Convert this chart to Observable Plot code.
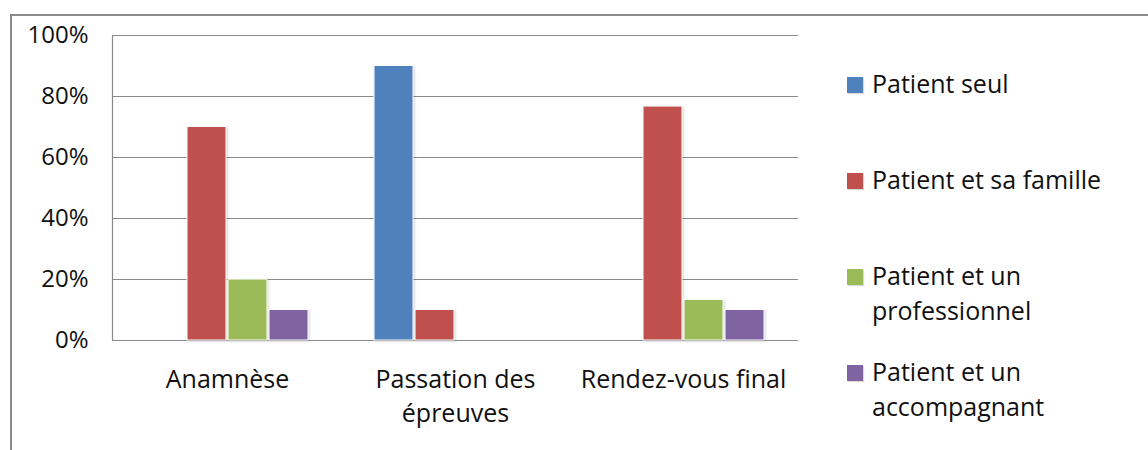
<!DOCTYPE html>
<html>
<head>
<meta charset="utf-8">
<script src="https://cdn.jsdelivr.net/npm/d3@7"></script>
<script src="https://cdn.jsdelivr.net/npm/@observablehq/plot@0.6"></script>
<style>
  html, body { margin: 0; padding: 0; background: #fff; overflow: hidden; }
  body { width: 1148px; height: 450px; position: relative; font-family: "Open Sans", sans-serif; }
  #frame { position: absolute; left: 10px; top: 14px; width: 1160px; height: 460px; border: 2px solid #8c8c8c; box-sizing: border-box; }
  .layer { position: absolute; left: 0; top: 0; }
  .bars rect { filter: drop-shadow(1px 1px 1px rgba(0,0,0,0.18)); }
  #legend { position: absolute; left: 847px; top: 66px; }
  .item { position: relative; height: 96px; width: 270px; }
  .sw { position: absolute; left: 0; top: 11px; width: 16px; height: 16px; box-shadow: 1px 1px 1px rgba(0,0,0,0.15); }
  .lab { position: absolute; left: 25px; top: 0; width: 255px; font-size: 25px; line-height: 35px; color: #111; }
</style>
</head>
<body>
<div id="frame"></div>
<div id="back" class="layer"></div>
<div id="front" class="layer"></div>
<div id="legend"></div>
<script>
const categories = ["Anamnèse", "Passation des épreuves", "Rendez-vous final"];
const categoryLabels = ["Anamnèse", "Passation des\népreuves", "Rendez-vous final"];
const series = ["Patient seul", "Patient et sa famille", "Patient et un professionnel", "Patient et un accompagnant"];
const colors = ["#4F81BD", "#C0504D", "#9BBB59", "#8064A2"];
// values in % per series, one per category
const patientSeul = [0, 90, 0];
const patientFamille = [70, 10, 76.7];
const patientPro = [20, 0, 13.3];
const patientAccomp = [10, 0, 10];
const yTicks = [0, 20, 40, 60, 80, 100];

const seriesValues = [patientSeul, patientFamille, patientPro, patientAccomp];
const data = [];
categories.forEach((c, i) => series.forEach((s, j) => data.push({cat: c, series: s, value: seriesValues[j][i]})));

const W = 810, H = 440;
const margins = {marginLeft: 112, marginRight: 12, marginTop: 35, marginBottom: 100};
const gridColor = "#8a8a8a";

const back = Plot.plot({
  width: W, height: H, ...margins,
  style: {fontFamily: "Open Sans", fontSize: "24px", color: "#111", background: "transparent"},
  x: {domain: [0, 1], axis: null},
  y: {domain: [0, 100]},
  marks: [
    Plot.ruleY(yTicks, {stroke: gridColor, strokeWidth: 1.2}),
    Plot.ruleX([0], {stroke: gridColor, strokeWidth: 1.2}),
    Plot.axisY(yTicks, {tickSize: 0, tickPadding: 24, fontSize: 24, tickFormat: d => d + "%", label: null})
  ]
});
document.getElementById("back").appendChild(back);

const front = Plot.plot({
  width: W, height: H, ...margins,
  style: {fontFamily: "Open Sans", fontSize: "25px", color: "#111", background: "transparent"},
  fx: {domain: categories, padding: 0, label: null},
  x: {domain: series, paddingInner: 0.04, paddingOuter: 0.775, axis: null},
  y: {domain: [0, 100], axis: null},
  color: {domain: series, range: colors},
  marks: [
    Plot.barY(data.filter(d => d.value > 0), {fx: "cat", x: "series", y: "value", fill: "series", stroke: "#fff", strokeWidth: 1, className: "bars"}),
    Plot.axisFx({anchor: "bottom", tickSize: 0, tickPadding: 23, fontSize: 25, lineHeight: 1.36, label: null,
      tickFormat: d => categoryLabels[categories.indexOf(d)]})
  ]
});
document.getElementById("front").appendChild(front);

const legend = document.getElementById("legend");
series.forEach((s, j) => {
  const item = document.createElement("div");
  item.className = "item";
  const sw = document.createElement("div");
  sw.className = "sw";
  sw.style.background = colors[j];
  const lab = document.createElement("div");
  lab.className = "lab";
  lab.textContent = s;
  item.appendChild(sw);
  item.appendChild(lab);
  legend.appendChild(item);
});
</script>
</body>
</html>
